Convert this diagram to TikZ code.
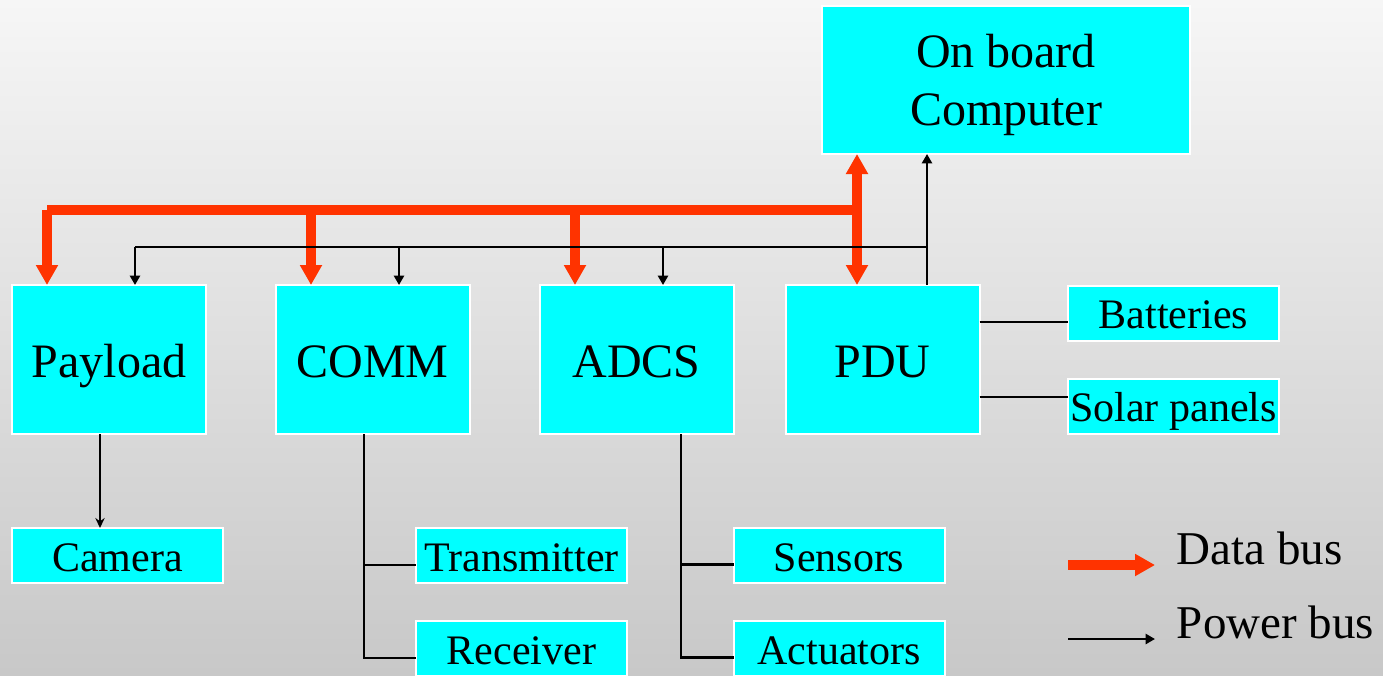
\documentclass[tikz,border=0pt]{standalone}
\usepackage{fontspec}
\setmainfont{Liberation Serif}
\usetikzlibrary{arrows.meta,calc}
\definecolor{boxcyan}{HTML}{00FFFF}
\definecolor{busred}{HTML}{FF3300}
\definecolor{bgtop}{HTML}{F6F6F6}
\definecolor{bgbot}{HTML}{C8C8C8}
\begin{document}
\begin{tikzpicture}[x=0.75pt,y=-0.75pt,
  box/.style={draw=white, line width=1.5pt, fill=boxcyan, inner sep=0pt, outer sep=0pt, text=black},
  bigbox/.style={box, minimum width=145.5pt, minimum height=111.75pt, font=\fontsize{36pt}{43.7pt}\selectfont, text height=27.3pt, text depth=0pt},
  smallbox/.style={box, minimum width=158.25pt, minimum height=41.25pt, font=\fontsize{31.5pt}{38pt}\selectfont, text height=23.8pt, text depth=0pt},
  databus/.style={draw=busred, line width=7.5pt},
  datahead/.style={databus, -{Triangle[length=15pt,width=15.75pt]}},
  databoth/.style={databus, {Triangle[length=15pt,width=15.75pt]}-{Triangle[length=15pt,width=15.75pt]}},
  power/.style={draw=black, line width=1.8pt},
  powerhead/.style={power, -{Triangle[length=7pt,width=7.5pt]}},
  camhead/.style={power, -{Stealth[length=7.5pt,width=7pt,inset=2.5pt]}},
  legtext/.style={anchor=base west, inner sep=0pt, font=\fontsize{35.25pt}{42pt}\selectfont}
]
\useasboundingbox (0,0) rectangle (1383,675);
\shade[top color=bgtop, bottom color=bgbot] (0,0) rectangle (1383,675);
\clip (0,0) rectangle (1383,675);

% boxes
\node[box, minimum width=276pt, minimum height=111pt, align=center,
      font=\fontsize{36pt}{43.7pt}\selectfont, text depth=0pt] (obc) at (1006,80) {On board\\Computer};
\node[bigbox] (payload) at (109,359.5) {Payload};
\node[bigbox] (comm) at (372.5,359.5) {COMM};
\node[bigbox] (adcs) at (636.5,359.5) {ADCS};
\node[bigbox] (pdu) at (882.5,359.5) {PDU};
\node[smallbox] (bat) at (1173.5,313) {Batteries};
\node[smallbox] (solar) at (1173.5,406) {Solar panels};
\node[smallbox] (camera) at (117.5,555.5) {Camera};
\node[smallbox] (trans) at (521.5,555.5) {Transmitter};
\node[smallbox] (recv) at (521.5,648.5) {Receiver};
\node[smallbox] (sens) at (839,555.5) {Sensors};
\node[smallbox] (act) at (839,648.5) {Actuators};

% data bus
\coordinate (dj) at (857,210);
\coordinate (dpay) at (47,210);
\coordinate (dcomm) at (311,210);
\coordinate (dadcs) at (575,210);
\draw[databoth] (obc.south -| dj) -- (pdu.north -| dj);
\draw[databus] (dj) -- (dpay);
\draw[datahead] (dpay) -- (dpay |- payload.north);
\draw[datahead] (dcomm) -- (dcomm |- comm.north);
\draw[datahead] (dadcs) -- (dadcs |- adcs.north);

% power bus
\coordinate (pj) at (927,247);
\coordinate (ppay) at (135,247);
\coordinate (pcomm) at (399,247);
\coordinate (padcs) at (663,247);
\draw[powerhead] (pdu.north -| pj) -- (obc.south -| pj);
\draw[power] (pj) -- (ppay);
\draw[powerhead] (ppay) -- (ppay |- payload.north);
\draw[powerhead] (pcomm) -- (pcomm |- comm.north);
\draw[powerhead] (padcs) -- (padcs |- adcs.north);

% payload to camera
\coordinate (pcam) at ([xshift=-6.75pt]payload.south);
\draw[camhead] (pcam) -- (pcam |- camera.north);

% COMM tree
\coordinate (cbus) at ([xshift=-6.4pt]comm.south);
\coordinate (tw) at ([yshift=-7.1pt]trans.west);
\coordinate (rw) at ([yshift=-7.1pt]recv.west);
\draw[power] (cbus) |- (rw);
\draw[power] (cbus |- tw) -- (tw);

% ADCS tree
\coordinate (abus) at ([xshift=33.4pt]adcs.south);
\coordinate (sw) at ([yshift=-6.6pt]sens.west);
\coordinate (aw) at ([yshift=-6.6pt]act.west);
\draw[power] (abus) |- (aw);
\draw[power] (abus |- sw) -- (sw);

% PDU to batteries and solar panels
\coordinate (bw) at ([yshift=-6.75pt]bat.west);
\coordinate (slw) at ([yshift=6.75pt]solar.west);
\draw[power] (pdu.east |- bw) -- (bw);
\draw[power] (pdu.east |- slw) -- (slw);

% legend
\coordinate (ld1) at (1068,565);
\coordinate (ld2) at (1155,565);
\coordinate (lp1) at (1068,639);
\coordinate (lp2) at (1155,639);
\draw[datahead] (ld1) -- (ld2);
\draw[powerhead] (lp1) -- (lp2);
\node[legtext] (legdata) at (1176.7,564) {Data bus};
\node[legtext] (legpower) at (1176.7,638) {Power bus};
\end{tikzpicture}
\end{document}
